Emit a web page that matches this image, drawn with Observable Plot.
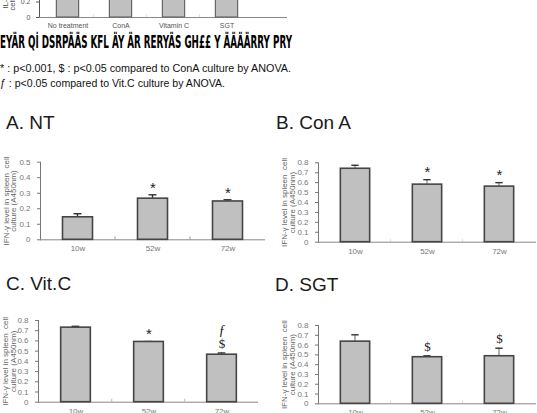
<!DOCTYPE html>
<html><head><meta charset="utf-8">
<script src="https://cdn.jsdelivr.net/npm/d3@7"></script>
<script src="https://cdn.jsdelivr.net/npm/@observablehq/plot@0.6"></script>
<style>
body{margin:0;background:#fff;}
#root{position:relative;width:537px;height:413px;overflow:hidden;background:#fff;font-family:"Liberation Sans",Arial,sans-serif;}
.abs{position:absolute;}
.title{font-size:19px;line-height:19px;color:#1a1a1a;white-space:nowrap;}
.note{font-size:11px;line-height:11px;color:#111;white-space:nowrap;transform-origin:0 0;}
.garble{font-family:"DejaVu Sans",sans-serif;font-weight:bold;font-size:17px;line-height:17px;color:#000;white-space:nowrap;transform-origin:0 0;}
</style></head><body><div id="root"></div>
<script>
// ---- data ----
const topCats = ["No treatment", "ConA", "Vitamin C", "SGT"];
const topVals = [0.45, 0.95, 0.85, 0.75];           // cut off above the visible area
const topTicks = [0, 0.2, 0.4, 0.6, 0.8, 1.0];
const topLabel = "IL-1β level in spleen\ncell culture (A450nm)";

const weeks = ["10w", "52w", "72w"];
const ntMean = [0.145, 0.265, 0.247];
const ntErr = [0.023, 0.025, 0.011];
const conaMean = [0.74, 0.58, 0.56];
const conaErr = [0.035, 0.05, 0.04];
const vitcMean = [0.73, 0.59, 0.465];
const vitcErr = [0.013, 0.004, 0.017];
const sgtMean = [0.635, 0.476, 0.486];
const sgtErr = [0.07, 0.014, 0.082];
const ticks05 = [0, 0.1, 0.2, 0.3, 0.4, 0.5];
const ticks08 = [0, 0.1, 0.2, 0.3, 0.4, 0.5, 0.6, 0.7, 0.8];
const ntSig = [{w: "52w", s: "*", lvl: 0}, {w: "72w", s: "*", lvl: 0}];
const conaSig = [{w: "52w", s: "*", lvl: 0}, {w: "72w", s: "*", lvl: 0}];
const vitcSig = [{w: "52w", s: "*", lvl: 0}, {w: "72w", s: "$", lvl: 0}, {w: "72w", s: "ƒ", lvl: 1}];
const sgtSig = [{w: "52w", s: "$", lvl: 0}, {w: "72w", s: "$", lvl: 0}];
const yLabel = "IFN-γ level in spleen  cell\nculture (A450nm)";

const titles = [["A. NT", 6, 113], ["B. Con A", 276, 113], ["C. Vit.C", 6, 274], ["D. SGT", 275, 275]];
const garbled = "EYÄR Qİ DSRPÄÄS KFL ÄY ÄR RERYÄS GH££ Y ÄÄÄÄRRY PRY";
const note1 = "* : p<0.001, $ : p<0.05 compared to ConA culture by ANOVA.";
const note2 = "ƒ : p<0.05 compared to Vit.C culture by ANOVA.";

const fmt = d => String(+d.toFixed(1));
const root = document.getElementById("root");
function place(el, left, top) { el.classList.add("abs"); el.style.left = left + "px"; el.style.top = top + "px"; root.appendChild(el); return el; }
function textDiv(cls, txt, left, top, fitWidth) {
  const d = document.createElement("div"); d.className = cls; d.textContent = txt;
  place(d, left, top);
  if (fitWidth) { const w = d.getBoundingClientRect().width; d.style.transform = `scaleX(${fitWidth / w})`; }
  return d;
}

// ---- top partial chart ----
(function(){
  const width = 300, height = 112, mL = 39, mR = 46, mT = 10, mB = 17;
  const bw = (width - mL - mR) / topCats.length;
  const data = topCats.map((c, i) => ({c, v: topVals[i]}));
  const plotH = height - mT - mB;
  const tv = 1.1 * 3 / plotH;
  const p = Plot.plot({
    width, height, marginLeft: mL, marginRight: mR, marginTop: mT, marginBottom: mB,
    style: {fontFamily: "Liberation Sans, Arial, sans-serif", fontSize: "7px", color: "#555", background: "transparent"},
    x: {domain: topCats, padding: 0, label: null, tickSize: 0, tickPadding: 6},
    y: {domain: [0, 1.1], ticks: topTicks, tickFormat: fmt, label: null, tickSize: 3, tickPadding: 6, line: true},
    marks: [
      Plot.ruleY([0], {stroke: "#888", insetRight: -33}),
      Plot.barY(topCats.slice(1), {x: d => d, y1: 0, y2: tv, fill: "#888", insetLeft: -0.5, insetRight: bw - 0.5}),
      Plot.barY(data, {x: "c", y: "v", fill: "#c0c0c0", stroke: "#666", strokeWidth: 1.2, insetLeft: (bw - 23) / 2, insetRight: (bw - 23) / 2}),
      Plot.text([topLabel], {frameAnchor: "left", textAnchor: "middle", text: d => d, rotate: -90, dx: -30, fontSize: 7.5, fill: "#444", lineHeight: 0.95})
    ]
  });
  place(p, 0, -78);
})();

textDiv("garble", garbled, 0, 34, 292);
textDiv("note", note1, 0, 62.5, 291);
textDiv("note", note2, 0, 77.5, 225);
for (const [t, l, tp] of titles) textDiv("title", t, l, tp);

// ---- panels ----
function panel({left, top, width, height, mL, mR, mT, mB, means, errs, ymax, yticks, sig, lblDx}) {
  const data = weeks.map((w, i) => ({w, m: means[i], top: means[i] + errs[i]}));
  const bw = (width - mL - mR) / weeks.length;
  const plotH = height - mT - mB;
  const tv = ymax * 3 / plotH;
  const barIn = (bw - 30) / 2, capIn = (bw - 8) / 2, stemIn = (bw - 1.4) / 2;
  const sigData = sig.map(d => ({...d, y: data.find(e => e.w === d.w).top}));
  const p = Plot.plot({
    width, height, marginLeft: mL, marginRight: mR, marginTop: mT, marginBottom: mB,
    style: {fontFamily: "Liberation Sans, Arial, sans-serif", fontSize: "8px", color: "#777", background: "transparent", overflow: "visible"},
    x: {domain: weeks, padding: 0, label: null, tickSize: 0, tickPadding: 6},
    y: {domain: [0, ymax], ticks: yticks, tickFormat: fmt, label: null, tickSize: 3, tickPadding: 7, line: true},
    marks: [
      Plot.ruleY([0], {stroke: "#888"}),
      Plot.barY(weeks.slice(1), {x: d => d, y1: 0, y2: tv, fill: "#999", insetLeft: -0.5, insetRight: bw - 0.5}),
      Plot.barY(data, {x: "w", y1: "m", y2: "top", fill: "#333", insetLeft: stemIn, insetRight: stemIn}),
      Plot.tickY(data, {x: "w", y: "top", stroke: "#333", strokeWidth: 1.4, insetLeft: capIn, insetRight: capIn}),
      Plot.barY(data, {x: "w", y: "m", fill: "#c0c0c0", stroke: "#454545", strokeWidth: 1.6, insetLeft: barIn, insetRight: barIn}),
      Plot.text(sigData.filter(d => d.s === "*"), {x: "w", y: "y", text: "s", dy: -7, fontSize: 15, fill: "#222", fontFamily: "Liberation Sans, Arial, sans-serif"}),
      Plot.text(sigData.filter(d => d.s === "$"), {x: "w", y: "y", text: "s", dy: -9, fontSize: 13, fill: "#222", fontFamily: "Liberation Serif, serif"}),
      Plot.text(sigData.filter(d => d.s === "ƒ"), {x: "w", y: "y", text: "s", dy: -22, fontSize: 14, fill: "#222", fontStyle: "italic", fontFamily: "Liberation Serif, serif"}),
      Plot.text([yLabel], {frameAnchor: "left", textAnchor: "middle", lineAnchor: "middle", text: d => d, rotate: -90, dx: lblDx, fontSize: 8, fill: "#666", lineHeight: 0.94})
    ]
  });
  place(p, left, top);
}

panel({left: 0, top: 140, width: 268, height: 120, mL: 40, mR: 3, mT: 21.7, mB: 20.7, means: ntMean, errs: ntErr, ymax: 0.5, yticks: ticks05, sig: ntSig, lblDx: -30.5});
panel({left: 268, top: 140, width: 269, height: 120, mL: 50, mR: 1, mT: 22.3, mB: 18.3, means: conaMean, errs: conaErr, ymax: 0.8, yticks: ticks08, sig: conaSig, lblDx: -30});
panel({left: 0, top: 300, width: 268, height: 120, mL: 38, mR: 10, mT: 20, mB: 18.3, means: vitcMean, errs: vitcErr, ymax: 0.8, yticks: ticks08, sig: vitcSig, lblDx: -29});
panel({left: 268, top: 300, width: 269, height: 120, mL: 50, mR: 1, mT: 25, mB: 16.7, means: sgtMean, errs: sgtErr, ymax: 0.8, yticks: ticks08, sig: sgtSig, lblDx: -30});
</script></body></html>
